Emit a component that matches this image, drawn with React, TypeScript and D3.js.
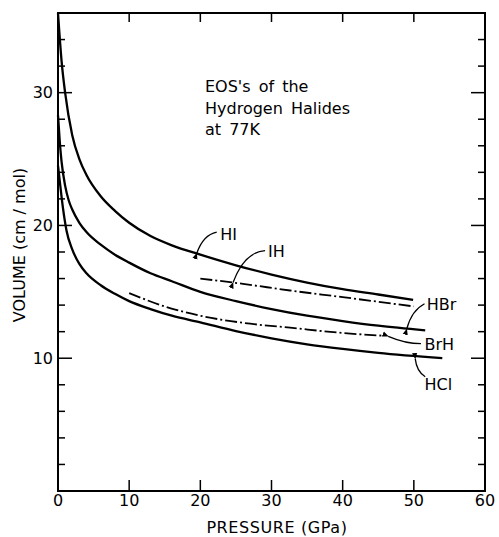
import * as d3 from 'd3';
import React from 'react';

// pressure (GPa), volume (cm3/mol)
const hiCurve = [[0, 36], [0.5, 32.4], [1, 30.0], [2, 26.8], [3, 25.0], [4, 23.8], [6, 22.2], [8, 21.1], [10, 20.2], [13, 19.2], [16, 18.5], [20, 17.8], [25, 17.0], [30, 16.3], [35, 15.7], [40, 15.2], [45, 14.8], [49.9, 14.4]];
const hbrCurve = [[0, 28.3], [0.25, 26.3], [0.5, 24.8], [1, 23.0], [1.5, 21.9], [2, 21.2], [3, 20.2], [4, 19.5], [6, 18.55], [8, 17.8], [10, 17.2], [13, 16.4], [16, 15.8], [20, 15.0], [25, 14.3], [30, 13.7], [35, 13.2], [40, 12.8], [45, 12.45], [51.6, 12.1]];
const hclCurve = [[0, 24.5], [0.3, 23.1], [0.7, 21.3], [1.2, 19.6], [2, 18.2], [3, 17.1], [4, 16.4], [6, 15.5], [8, 14.85], [10, 14.3], [13, 13.7], [16, 13.2], [20, 12.7], [25, 12.05], [30, 11.5], [35, 11.05], [40, 10.7], [45, 10.4], [54, 10.0]];
const ihCurve = [[20, 16.0], [26, 15.6], [32.6, 15.1], [40, 14.6], [50, 13.9]];
const brhCurve = [[10, 14.9], [15, 13.9], [20, 13.2], [27, 12.6], [32.6, 12.3], [40, 11.9], [45.5, 11.7]];

const xTicks = [0, 10, 20, 30, 40, 50, 60];
const yLabels = [10, 20, 30];
const yMinor = d3.range(2, 36, 2);

const titleLines = ["EOS's of the", 'Hydrogen Halides', 'at 77K'];

// curve labels: text, text anchor point, leader start (on the curve), leader control, leader end
const labels = [
  { text: 'HI', at: [22.8, 18.9], from: [19.5, 17.9], ctrl: [20.4, 19.3], to: [22.3, 19.5] },
  { text: 'IH', at: [29.5, 17.6], from: [24.6, 15.7], ctrl: [26.2, 18.0], to: [29.1, 18.1] },
  { text: 'HBr', at: [51.8, 13.6], from: [49.0, 12.2], ctrl: [49.7, 13.6], to: [51.5, 14.1] },
  { text: 'BrH', at: [51.5, 10.6], from: [46.4, 11.65], ctrl: [48.8, 11.1], to: [51.0, 11.1] },
  { text: 'HCl', at: [51.5, 7.6], from: [50.2, 9.95], ctrl: [50.4, 9.0], to: [51.6, 8.6] },
];

const W = 499, H = 537;
const font = 'DejaVu Sans, sans-serif';

export default function App() {
  const x = d3.scaleLinear().domain([0, 60]).range([58, 485]);
  const y = d3.scaleLinear().domain([0, 36]).range([491, 13]);
  const line = d3.line<number[]>().x(d => x(d[0])).y(d => y(d[1])).curve(d3.curveMonotoneX);
  const solid = [hiCurve, hbrCurve, hclCurve];
  const dashed = [ihCurve, brhCurve];

  return (
    <svg width={W} height={H} style={{ position: 'absolute', left: 0, top: 0 }}>
      <defs>
        <marker id="arr" viewBox="0 0 10 10" refX="1" refY="5" markerWidth="5" markerHeight="5" orient="auto-start-reverse">
          <path d="M0,5 L10,1 L10,9 Z" fill="#000" />
        </marker>
      </defs>
      <rect x={0} y={0} width={W} height={H} fill="#fff" />
      <g stroke="#000" fill="none">
        <rect x={x(0)} y={y(36)} width={x(60) - x(0)} height={y(0) - y(36)} strokeWidth={2} />
        {xTicks.slice(1, -1).map(t => (
          <g key={t} strokeWidth={1.5}>
            <line x1={x(t)} x2={x(t)} y1={y(0)} y2={y(0) - 11} />
            <line x1={x(t)} x2={x(t)} y1={y(36)} y2={y(36) + 9} />
          </g>
        ))}
        {yMinor.map(t => {
          const len = t % 10 === 0 ? 14 : 7;
          return (
            <g key={t} strokeWidth={1.5}>
              <line x1={x(0)} x2={x(0) + len} y1={y(t)} y2={y(t)} />
              <line x1={x(60)} x2={x(60) - len} y1={y(t)} y2={y(t)} />
            </g>
          );
        })}
        {solid.map((c, i) => <path key={i} d={line(c as any) || ''} strokeWidth={2.3} />)}
        {dashed.map((c, i) => <path key={i} d={line(c as any) || ''} strokeWidth={1.8} strokeDasharray="12,3,2,3" />)}
        {labels.map(l => (
          <path key={l.text} strokeWidth={1.3} markerStart="url(#arr)"
            d={`M${x(l.from[0])},${y(l.from[1])} Q${x(l.ctrl[0])},${y(l.ctrl[1])} ${x(l.to[0])},${y(l.to[1])}`} />
        ))}
      </g>
      <g fontFamily={font} fontSize={16} fill="#000">
        {xTicks.map(t => (
          <text key={t} x={x(t)} y={506} textAnchor="middle">{t}</text>
        ))}
        {yLabels.map(t => (
          <text key={t} x={53} y={y(t)} dy="0.36em" textAnchor="end">{t}</text>
        ))}
        <text x={277} y={533} textAnchor="middle" letterSpacing={0.6}>PRESSURE (GPa)</text>
        <text transform={`translate(25,245) rotate(-90)`} textAnchor="middle">VOLUME (cm / mol)</text>
        {titleLines.map((t, i) => (
          <text key={t} x={205} y={92 + i * 21.5} wordSpacing={3}>{t}</text>
        ))}
        {labels.map(l => (
          <text key={l.text} x={x(l.at[0])} y={y(l.at[1])}>{l.text}</text>
        ))}
      </g>
    </svg>
  );
}
